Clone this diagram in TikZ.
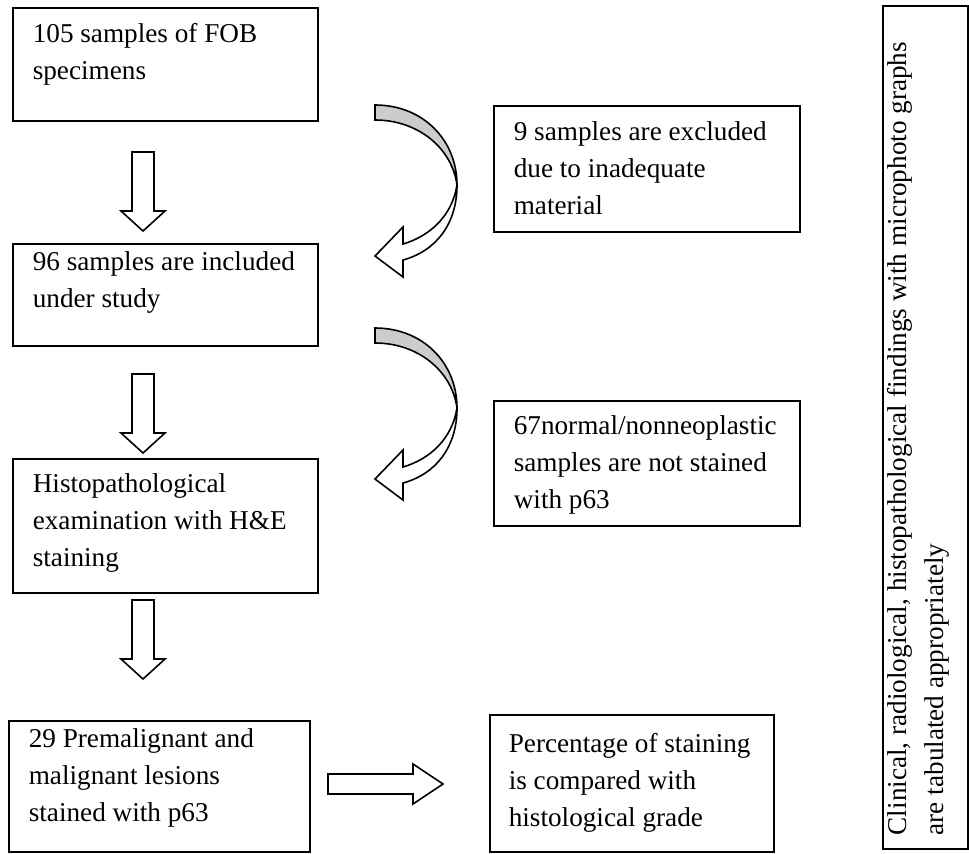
\documentclass[tikz,border=0pt]{standalone}
\usepackage{fontspec}
\setmainfont{Liberation Serif}
\usetikzlibrary{positioning}

\definecolor{bandgray}{gray}{0.8}
\newcommand\flowfont{\fontsize{13.6}{18.5}\selectfont\hyphenpenalty=10000}
% hollow block arrow pointing down, from its tail centre
\newcommand\downblk[1]{\draw[blk] (#1) ++(-11,0) -- ++(0,59) -- ++(-11,0) -- ++(22,20) -- ++(22,-20) -- ++(-11,0) -- ++(0,-59) -- cycle;}

\begin{document}
\begin{tikzpicture}[x=0.5pt,y=-0.5pt,
    box/.style={draw,line width=0.8pt,anchor=north west,align=flush left,inner xsep=10pt,inner ysep=0pt,font=\flowfont},
    blk/.style={draw,line width=0.8pt,fill=white,line join=miter}]
  \useasboundingbox (0,0) rectangle (969,853);

  % left column
  \node[box,text width=132.5pt,text height=17.5pt,text depth=39pt] (samples) at (12,7) {105 samples of FOB\\specimens};
  \node[box,text width=132.5pt,text height=13.5pt,text depth=37.5pt] (included) at (12,243) {96 samples are included\\under study};
  \node[box,text width=132.5pt,text height=17pt,text depth=50pt] (histo) at (12,458) {Histopathological\\examination with H\&E\\staining};
  \node[box,text width=130.5pt,text height=13.5pt,text depth=52pt] (lesions) at (8,720) {29 Premalignant and\\malignant lesions\\stained with p63};

  % right column
  \node[box,text width=133pt,text height=17.5pt,text depth=45.5pt] (excluded) at (493,105) {9 samples are excluded\\due to inadequate\\material};
  \node[box,text width=133pt,text height=17pt,text depth=45.5pt] (notstained) at (493,400) {67normal/nonneoplastic\\samples are not stained\\with p63};
  \node[box,text width=123pt,text height=19pt,text depth=49.5pt,inner xsep=9.5pt] (grade) at (489,714) {Percentage of staining\\is compared with\\histological grade};
  \node[box,rotate=90,text width=407.5pt,inner xsep=7pt,text height=12pt,text depth=30.5pt] (tabulated) at (882,850) {Clinical, radiological, histopathological findings with microphoto graphs\\are tabulated appropriately};

  % block arrows
  \coordinate (down1) at (143,152);
  \coordinate (down2) at (143,374);
  \coordinate (down3) at (143,600);
  \coordinate (side) at (328,774);
  \downblk{down1}
  \downblk{down2}
  \downblk{down3}
  \draw[blk] (side) -- ++(85,0) -- ++(0,-10) -- ++(30,20) -- ++(-30,20) -- ++(0,-10) -- ++(-85,0) -- cycle;

  % curved arrows
  \foreach \dy in {0,223}{
    \begin{scope}[shift={(0,\dy)}]
      \draw[line width=0.8pt,fill=bandgray] (375,105) .. controls (423,105) and (457,140) .. (457,185)
        .. controls (452,148) and (418,120) .. (375,120) -- cycle;
      \draw[blk] (457,185) .. controls (457,224) and (436,251) .. (403,260) -- (403,277) -- (375,256)
        -- (403,227) -- (403,244) .. controls (430,236) and (452,216) .. (457,185) -- cycle;
    \end{scope}
  }
\end{tikzpicture}
\end{document}
